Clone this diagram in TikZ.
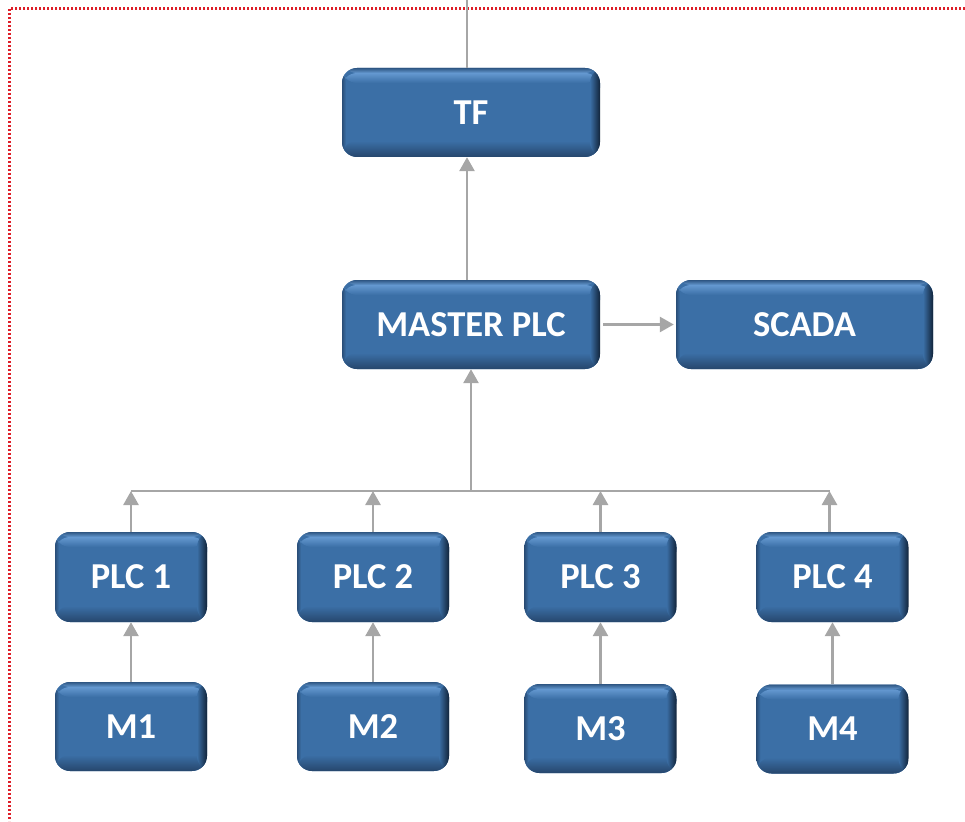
\documentclass[tikz,border=0pt]{standalone}
\usepackage{fontspec}
\newfontfamily\carlito{Carlito}
\usetikzlibrary{arrows.meta,calc}
\definecolor{boxblue}{RGB}{59,111,166}
\definecolor{boxlight}{RGB}{100,152,208}
\definecolor{boxdark}{RGB}{38,70,108}
\definecolor{boxedge}{RGB}{18,36,58}
\definecolor{arrgray}{RGB}{166,166,166}
\definecolor{dotred}{RGB}{222,30,40}
\tikzset{
  pbox/.style={rectangle, rounded corners=15pt, inner sep=0pt,
    text=white, font=\carlito\bfseries\fontsize{36.5}{40}\selectfont,
    path picture={
      \fill[boxblue] (path picture bounding box.south west) rectangle (path picture bounding box.north east);
      \shade[top color=boxdark!60!boxblue, bottom color=boxlight] (path picture bounding box.north west) rectangle ([yshift=-5pt]path picture bounding box.north east);
      \shade[top color=boxlight, bottom color=boxblue] ([yshift=-5pt]path picture bounding box.north west) rectangle ([yshift=-15pt]path picture bounding box.north east);
      \shade[top color=boxblue, bottom color=boxdark] ([yshift=16pt]path picture bounding box.south west) rectangle (path picture bounding box.south east);
      \shade[left color=boxblue, right color=boxedge] ([xshift=-10pt]path picture bounding box.south east) rectangle (path picture bounding box.north east);
      \shade[left color=boxdark!80!boxblue, right color=boxblue] (path picture bounding box.south west) rectangle ([xshift=4pt]path picture bounding box.north west);
    }},
  bigbox/.style={pbox, minimum width=258pt, minimum height=89pt},
  smallbox/.style={pbox, minimum width=152pt, minimum height=89pt},
  conn/.style={draw=arrgray, line width=2.7pt},
  arr/.style={conn, -{Triangle[width=15pt,length=14pt]}},
  border/.style={draw=dotred, line width=2.2pt, dash pattern=on 2pt off 2pt}
}
\begin{document}
\begin{tikzpicture}[x=1pt,y=-1pt]
\useasboundingbox (0,0) rectangle (965,821);
\draw[border] (965,8.5) -- (9.5,8.5) -- (9.5,821);

\node[bigbox] (tf) at (471,112.5) {TF};
\node[bigbox] (master) at (471,324.5) {MASTER PLC};
\node[bigbox, minimum width=257pt] (scada) at (804.5,324.5) {SCADA};

\node[smallbox, minimum height=90pt] (plc1) at (131,577) {PLC 1};
\node[smallbox, minimum height=90pt] (plc2) at (373,577) {PLC 2};
\node[smallbox, minimum height=90pt] (plc3) at (600.5,577) {PLC 3};
\node[smallbox, minimum height=90pt] (plc4) at (832.5,577) {PLC 4};

\node[smallbox] (m1) at (131,726.5) {M1};
\node[smallbox] (m2) at (373,726.5) {M2};
\node[smallbox] (m3) at (600.5,728.5) {M3};
\node[smallbox] (m4) at (832.5,729) {M4};

\coordinate (topend) at (467,0);
\coordinate (busmid) at (471,491);
\coordinate (busL) at (131,491);
\coordinate (busR) at (830,491);

% top line
\draw[conn] (topend) -- (tf.north -| topend);
% master -> tf
\draw[arr] (master.north -| topend) -- (tf.south -| topend);
% master -> scada
\draw[arr, shorten <=3pt, shorten >=2pt] (master.east) -- (scada.west);
% bus
\draw[conn] (busL) -- (busR);
\draw[arr] (busmid) -- (master.south -| busmid);
% plcs -> bus
\draw[arr] (plc1.north) -- (plc1.north |- busL);
\draw[arr] (plc2.north) -- (plc2.north |- busL);
\draw[arr] (plc3.north) -- (plc3.north |- busL);
\draw[arr] ([xshift=-3pt]plc4.north) -- ([xshift=-3pt]plc4.north |- busL);
% m -> plc
\draw[arr] (m1.north) -- (plc1.south);
\draw[arr] (m2.north) -- (plc2.south);
\draw[arr] (m3.north) -- (plc3.south);
\draw[arr] (m4.north) -- (plc4.south);
\end{tikzpicture}
\end{document}
